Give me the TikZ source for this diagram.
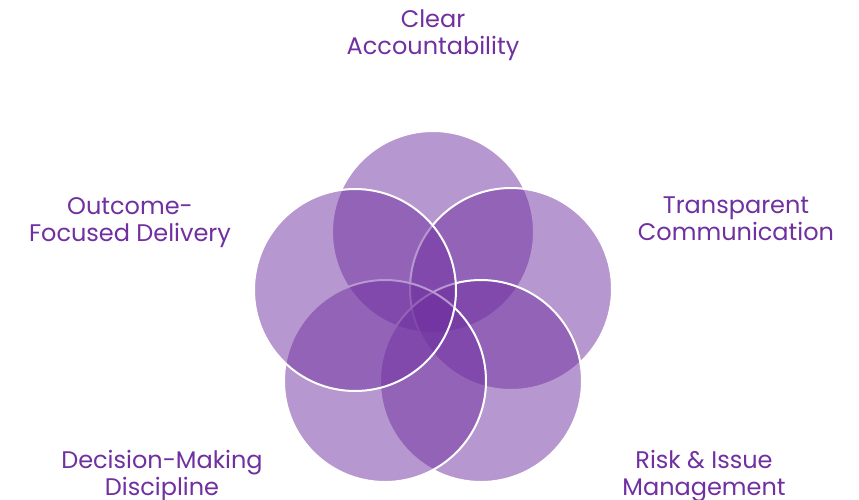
\documentclass[tikz,border=0pt]{standalone}
\usepackage{fontspec}
\setmainfont{Poppins}
\usepackage{tikz}
\definecolor{petalpurple}{RGB}{112,48,160}
\tikzset{
  petal/.style={fill=petalpurple, fill opacity=0.5, draw=white, line width=2pt},
  pillar/.style={align=center, text=petalpurple, font=\fontsize{24}{27}\selectfont, inner sep=0pt}
}
\begin{document}
\begin{tikzpicture}[x=1pt, y=-1pt]
			%%%%% START %%%%%
			
			\useasboundingbox[fill=white] (0, 0) rectangle (859, 499);
			
			\draw[petal] (433, 232) circle (101pt);
			\draw[petal] (511, 289) circle (101pt);
			\draw[petal] (481, 381) circle (101pt);
			\draw[petal] (385, 381) circle (101pt);
			\draw[petal] (355, 290) circle (101pt);
			
			\node[pillar, anchor=base] (clear) at (433, 54) {Clear\\Accountability};
			\node[pillar, anchor=base] (transparent) at (736, 240) {Transparent\\Communication};
			\node[pillar, anchor=base] (risk) at (704, 495) {Risk \& Issue\\Management};
			\node[pillar, anchor=base] (decision) at (162, 495) {Decision-Making\\Discipline};
			\node[pillar, anchor=base] (outcome) at (130, 241) {Outcome-\\Focused Delivery};
			
			%%%%% END %%%%%
\end{tikzpicture}
\end{document}
